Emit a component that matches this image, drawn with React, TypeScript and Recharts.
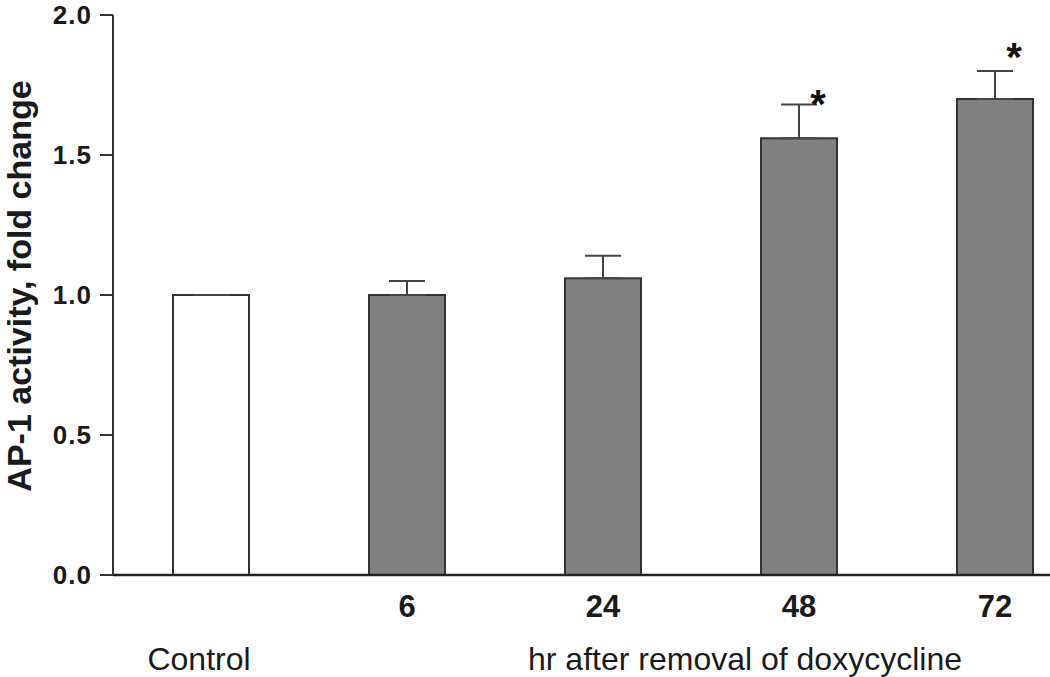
import { ComposedChart, Bar, Cell, ErrorBar, Scatter, XAxis, YAxis, Label } from 'recharts';

const categories = ['Control', '6', '24', '48', '72'];
const foldChange = [1.0, 1.0, 1.06, 1.56, 1.7];
const upperError = [0, 0.05, 0.08, 0.12, 0.1];
// asterisk heights (null = not significant)
const starY: (number | null)[] = [null, null, null, 1.71, 1.88];
const yTicks = [0, 0.5, 1.0, 1.5, 2.0];

const FONT = '"Liberation Sans", Arial, sans-serif';

const data = categories.map((c, i) => ({
  name: c,
  value: foldChange[i],
  err: [0, upperError[i]],
  star: starY[i],
}));

const XTick = (props: any) => {
  const { x, y, payload, index } = props;
  const isControl = index === 0;
  return (
    <text
      x={isControl ? x - 12 : x}
      y={isControl ? y + 95 : y + 42}
      textAnchor="middle"
      fontFamily={FONT}
      fontSize={isControl ? 32 : 31}
      fontWeight={isControl ? 400 : 700}
      fill="#1a1a1a"
    >
      {payload.value}
    </text>
  );
};

const YLabel = (props: any) => {
  const vb = props.viewBox;
  const cx = 31;
  const cy = vb.y + vb.height / 2 - 9;
  return (
    <text
      x={cx}
      y={cy}
      transform={`rotate(-90, ${cx}, ${cy})`}
      textAnchor="middle"
      fontFamily={FONT}
      fontSize={34}
      fontWeight={700}
      fill="#1a1a1a"
    >
      AP-1 activity, fold change
    </text>
  );
};

const Star = (props: any) => {
  const { cx, cy, payload } = props;
  if (payload == null || payload.star == null || !Number.isFinite(cy)) return <g />;
  return (
    <text x={cx + 19} y={cy + 22} textAnchor="middle" fontFamily={FONT} fontSize={40} fontWeight={700} fill="#111">
      *
    </text>
  );
};

export default function App() {
  return (
    <div style={{ position: 'absolute', left: 0, top: 0, width: 1050, height: 677, overflow: 'hidden', background: '#fff' }}>
      <ComposedChart width={1100} height={677} data={data} margin={{ top: 15, right: 7, bottom: 0, left: 0 }}>
        <XAxis
          dataKey="name"
          height={102}
          tickLine={false}
          tickSize={0}
          tickMargin={0}
          interval={0}
          tick={<XTick />}
          axisLine={{ stroke: '#222', strokeWidth: 2.5 }}
        >
          <Label
            value="hr after removal of doxycycline"
            position="insideBottom"
            offset={7}
            dx={142}
            style={{ fontFamily: FONT, fontSize: 32, fill: '#1a1a1a' }}
          />
        </XAxis>
        <YAxis
          width={113}
          domain={[0, 2]}
          ticks={yTicks}
          tickFormatter={(v: number) => v.toFixed(1)}
          tickSize={13}
          tickMargin={8}
          tick={{ fontFamily: FONT, fontSize: 26, fontWeight: 700, fill: '#1a1a1a', letterSpacing: 1 }}
          tickLine={{ stroke: '#333', strokeWidth: 2 }}
          axisLine={{ stroke: '#333', strokeWidth: 2 }}
          label={<YLabel />}
        />
        <Bar dataKey="value" barSize={76} stroke="#333" strokeWidth={2} isAnimationActive={false}>
          {data.map((d, i) => (
            <Cell key={d.name} fill={i === 0 ? '#ffffff' : '#808080'} />
          ))}
          <ErrorBar dataKey="err" width={18} stroke="#444" strokeWidth={2} direction="y" isAnimationActive={false} />
        </Bar>
        <Scatter dataKey="star" shape={<Star />} isAnimationActive={false} />
      </ComposedChart>
    </div>
  );
}
